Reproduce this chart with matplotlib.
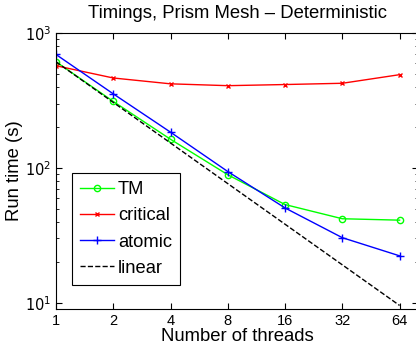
import matplotlib
matplotlib.use("Agg")
import matplotlib.pyplot as plt
from matplotlib.ticker import FixedLocator, LogLocator, NullFormatter

plt.rcParams["font.family"] = ["Liberation Sans", "DejaVu Sans"]

# --- data ---
threads = [1, 2, 4, 8, 16, 32, 64]
tick_labels = ["1", "2", "4", "8", "16", "32", "64"]
tm = [612, 311, 163, 89, 53.5, 42, 41]
critical = [572, 464, 420, 407, 415, 424, 491]
atomic = [693, 354, 184, 94, 50.5, 30.4, 22.3]
linear = [tm[0] / p for p in threads]

fig = plt.figure(figsize=(4.16, 3.53), dpi=100)
ax = fig.add_axes([56 / 416, 1 - 309 / 353, 362 / 416, 276 / 353])

ax.plot(threads, tm, color=(0, 1, 0), marker="o", mfc="none", ms=4.5, mew=1, lw=1, label="TM")
ax.plot(threads, critical, color="red", marker="x", ms=3.5, mew=1, lw=1, label="critical")
ax.plot(threads, atomic, color="blue", marker="+", ms=5.5, mew=1, lw=1, label="atomic")
ax.plot(threads, linear, color="black", ls="--", lw=1, label="linear")

ax.set_xscale("log", base=2)
ax.set_yscale("log")
ax.set_xlim(1, 80)
ax.set_ylim(9, 1000)

ax.xaxis.set_major_locator(FixedLocator(threads))
ax.set_xticklabels(tick_labels)
ax.xaxis.set_minor_locator(FixedLocator([]))
ax.yaxis.set_major_locator(FixedLocator([10, 100, 1000]))
ax.yaxis.set_minor_locator(LogLocator(base=10, subs=range(2, 10)))
ax.yaxis.set_minor_formatter(NullFormatter())
ax.set_yticklabels(["$10^1$", "$10^2$", "$10^3$"])

ax.tick_params(which="both", direction="in", top=True, right=True, labelsize=10.5)
ax.tick_params(which="major", length=4, width=0.8)
ax.tick_params(which="minor", length=2, width=0.6)
for s in ax.spines.values():
    s.set_linewidth(0.8)

ax.set_title("Timings, Prism Mesh \u2013 Deterministic", fontsize=13.3, pad=11)
ax.set_xlabel("Number of threads", fontsize=13.3, labelpad=0)
ax.set_ylabel("Run time (s)", fontsize=13.3, labelpad=1)

leg = ax.legend(loc="lower left", bbox_to_anchor=(16 / 362, 24 / 276), fontsize=13.2,
                fancybox=False, edgecolor="black", framealpha=1, handlelength=1.85,
                handletextpad=0.2, borderpad=0.45, labelspacing=0.5, borderaxespad=0)
leg.get_frame().set_linewidth(0.8)

fig.savefig("out.png", dpi=100)
